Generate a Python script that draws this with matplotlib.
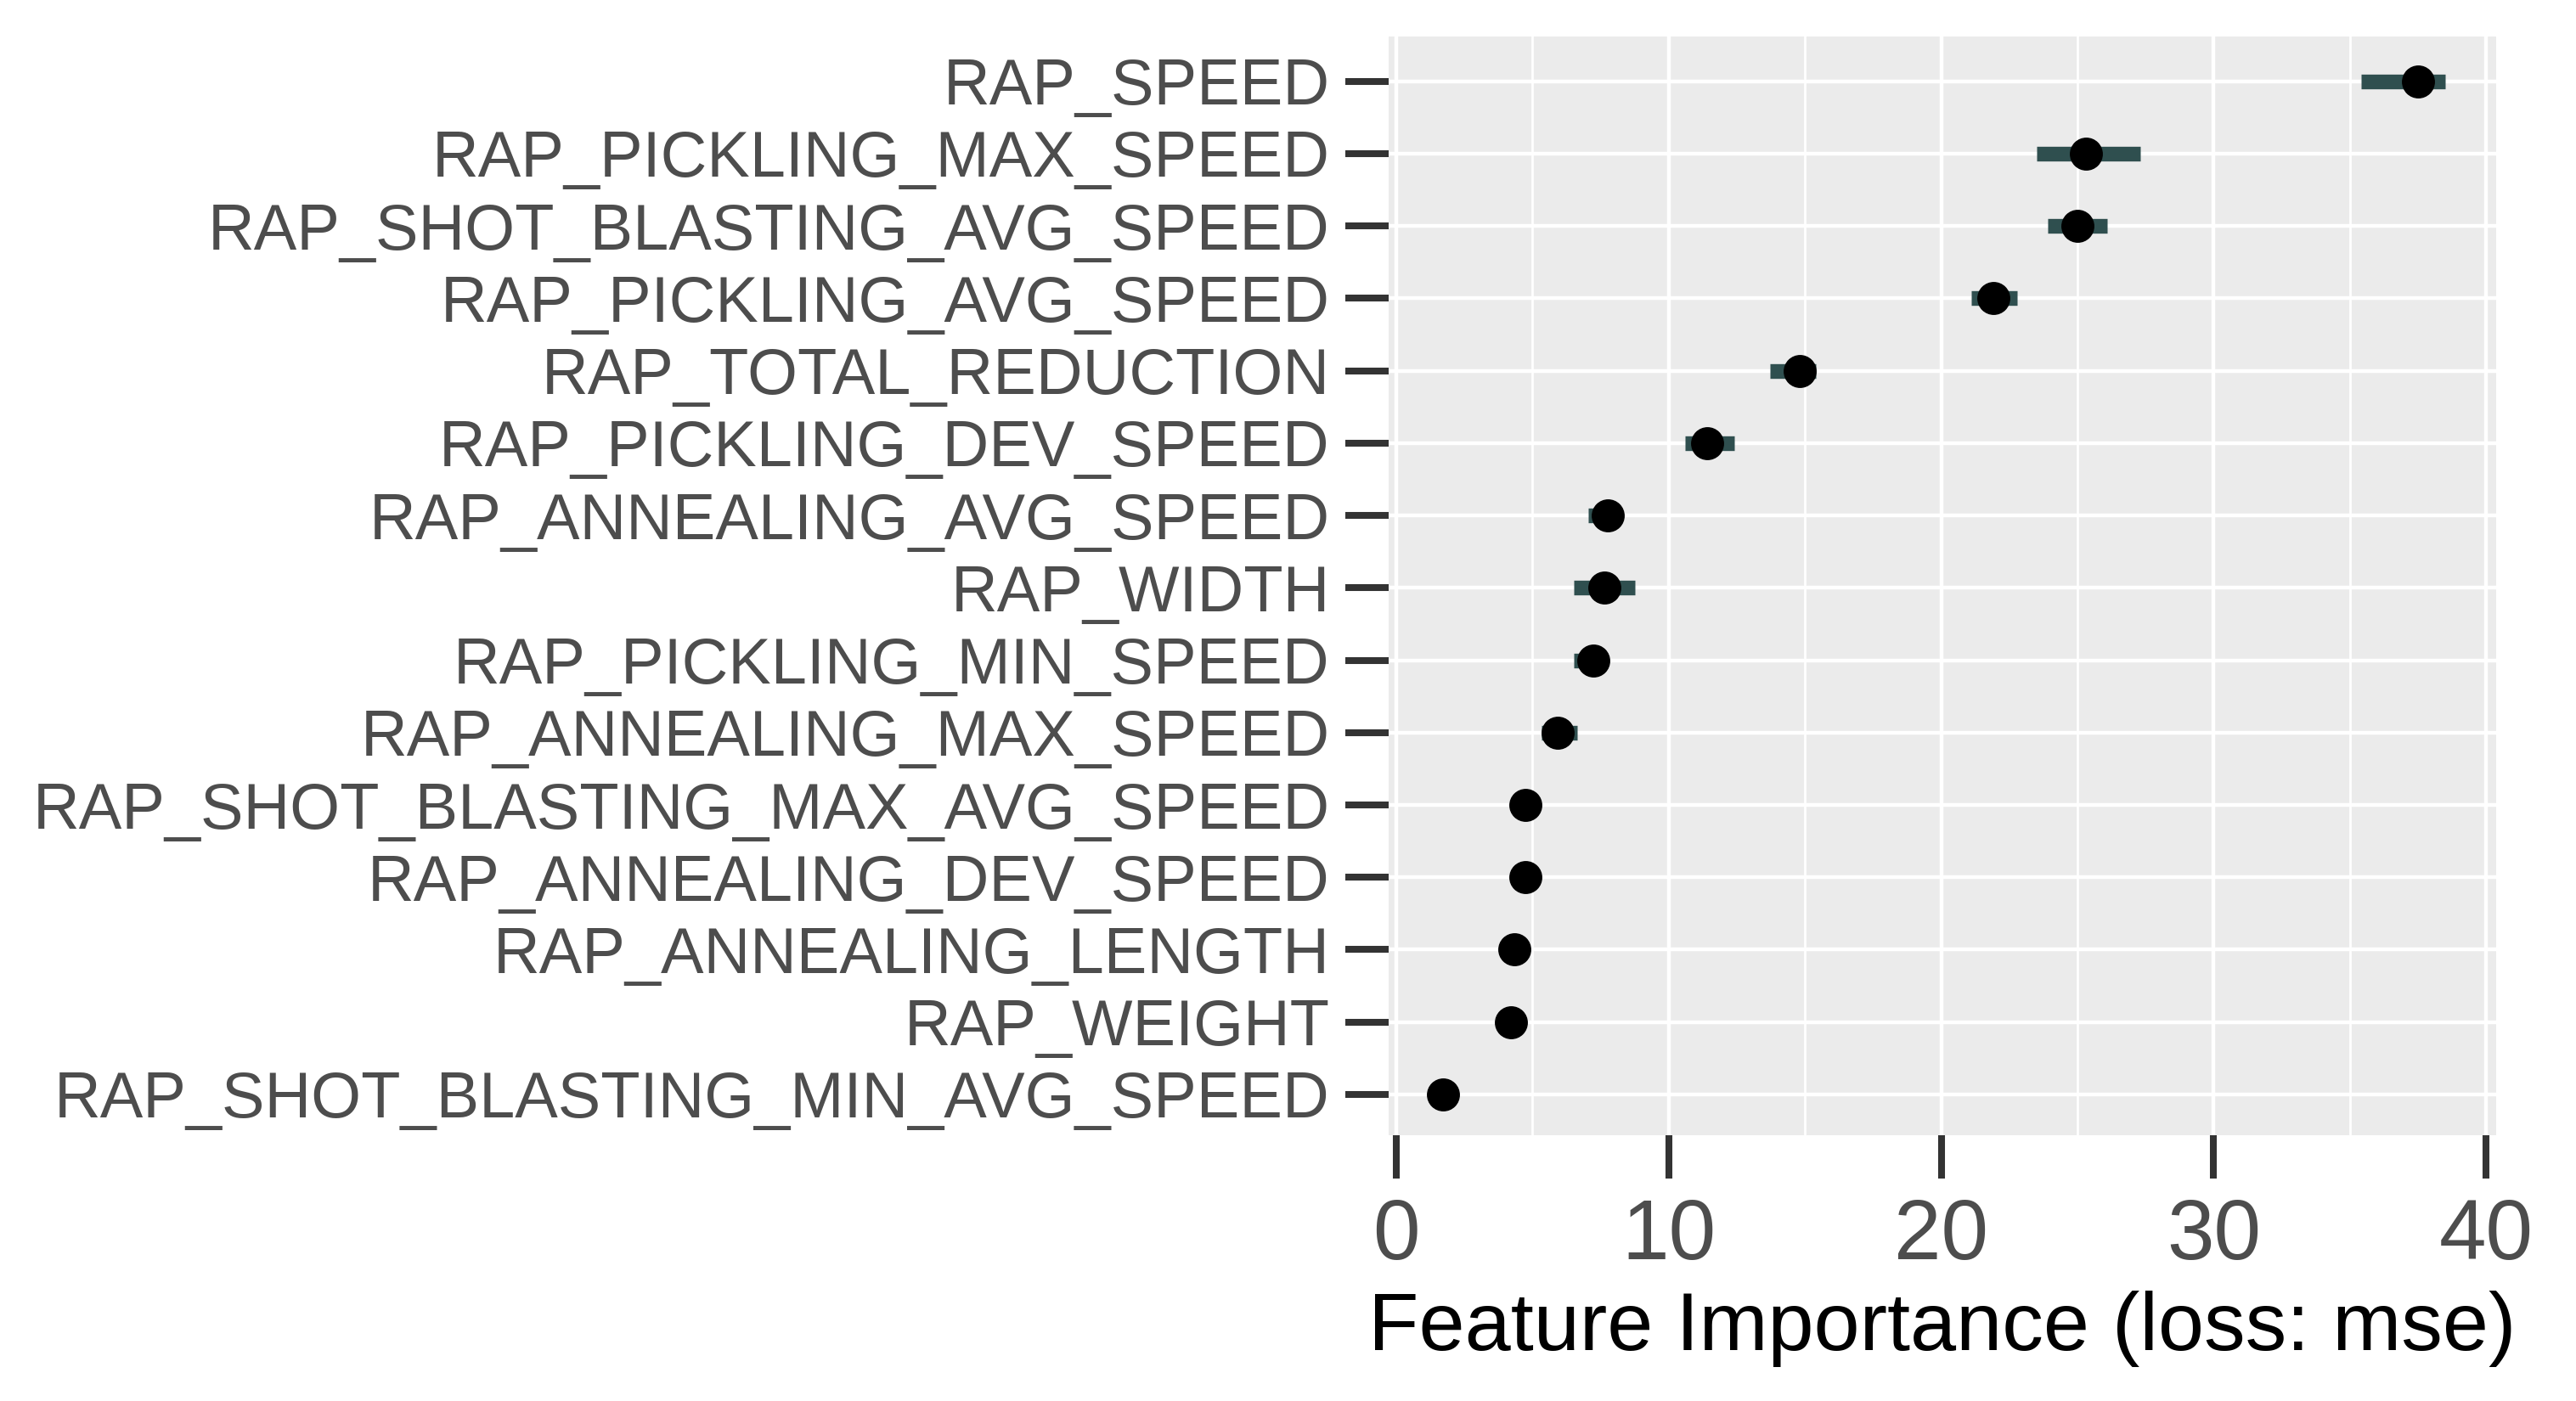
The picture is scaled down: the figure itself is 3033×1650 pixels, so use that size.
import matplotlib
matplotlib.use("Agg")
import matplotlib.pyplot as plt
from matplotlib.ticker import FixedLocator

# permutation feature importance, top feature first
features = [
    "RAP_SPEED",
    "RAP_PICKLING_MAX_SPEED",
    "RAP_SHOT_BLASTING_AVG_SPEED",
    "RAP_PICKLING_AVG_SPEED",
    "RAP_TOTAL_REDUCTION",
    "RAP_PICKLING_DEV_SPEED",
    "RAP_ANNEALING_AVG_SPEED",
    "RAP_WIDTH",
    "RAP_PICKLING_MIN_SPEED",
    "RAP_ANNEALING_MAX_SPEED",
    "RAP_SHOT_BLASTING_MAX_AVG_SPEED",
    "RAP_ANNEALING_DEV_SPEED",
    "RAP_ANNEALING_LENGTH",
    "RAP_WEIGHT",
    "RAP_SHOT_BLASTING_MIN_AVG_SPEED",
]
importance = [37.5, 25.3, 25.0, 21.9, 14.8, 11.4, 7.76, 7.63, 7.24, 5.92, 4.74, 4.74, 4.34, 4.21, 1.71]
lower = [35.4, 23.5, 23.9, 21.1, 13.7, 10.6, 7.04, 6.52, 6.52, 5.33, 4.45, 4.45, 4.05, 3.95, 1.45]
upper = [38.5, 27.3, 26.1, 22.8, 15.4, 12.4, 8.10, 8.76, 7.60, 6.65, 5.00, 5.00, 4.60, 4.45, 1.95]
x_ticks = [0, 10, 20, 30, 40]
x_minor = [5, 15, 25, 35]

plt.rcParams["font.family"] = ["Liberation Sans", "DejaVu Sans"]

fig = plt.figure(figsize=(30.33, 16.5), dpi=100)
ax = fig.add_axes([0.5391, 0.1894, 0.4299, 0.7846])
ax.set_facecolor("#EBEBEB")

rows = list(range(len(features)))

# error ranges, then the points on top
ax.hlines(rows, lower, upper, colors="#2F4F4F", linewidth=12.5, capstyle="butt", zorder=3)
ax.plot(importance, rows, "o", color="black", markersize=28, markeredgewidth=0, zorder=4)

ax.set_xlim(-0.28, 40.37)
ax.set_ylim(14.57, -0.62)

ax.set_xticks(x_ticks)
ax.xaxis.set_minor_locator(FixedLocator(x_minor))
ax.set_yticks(rows)
ax.set_yticklabels(features)

ax.grid(which="major", color="white", linewidth=3.2, zorder=0)
ax.grid(which="minor", axis="x", color="white", linewidth=2.0, zorder=0)
ax.set_axisbelow(True)

for s in ax.spines.values():
    s.set_visible(False)

ax.tick_params(axis="y", which="major", length=37, width=5.8, color="#333333",
               pad=13, labelsize=54.5, labelcolor="#4D4D4D")
ax.tick_params(axis="x", which="major", length=37, width=5.8, color="#333333",
               pad=15, labelsize=72, labelcolor="#4D4D4D")
ax.tick_params(axis="x", which="minor", length=0)

ax.set_xlabel("Feature Importance (loss: mse)", fontsize=70, color="black", labelpad=12)

fig.savefig("out.png", dpi=100, facecolor="white")
